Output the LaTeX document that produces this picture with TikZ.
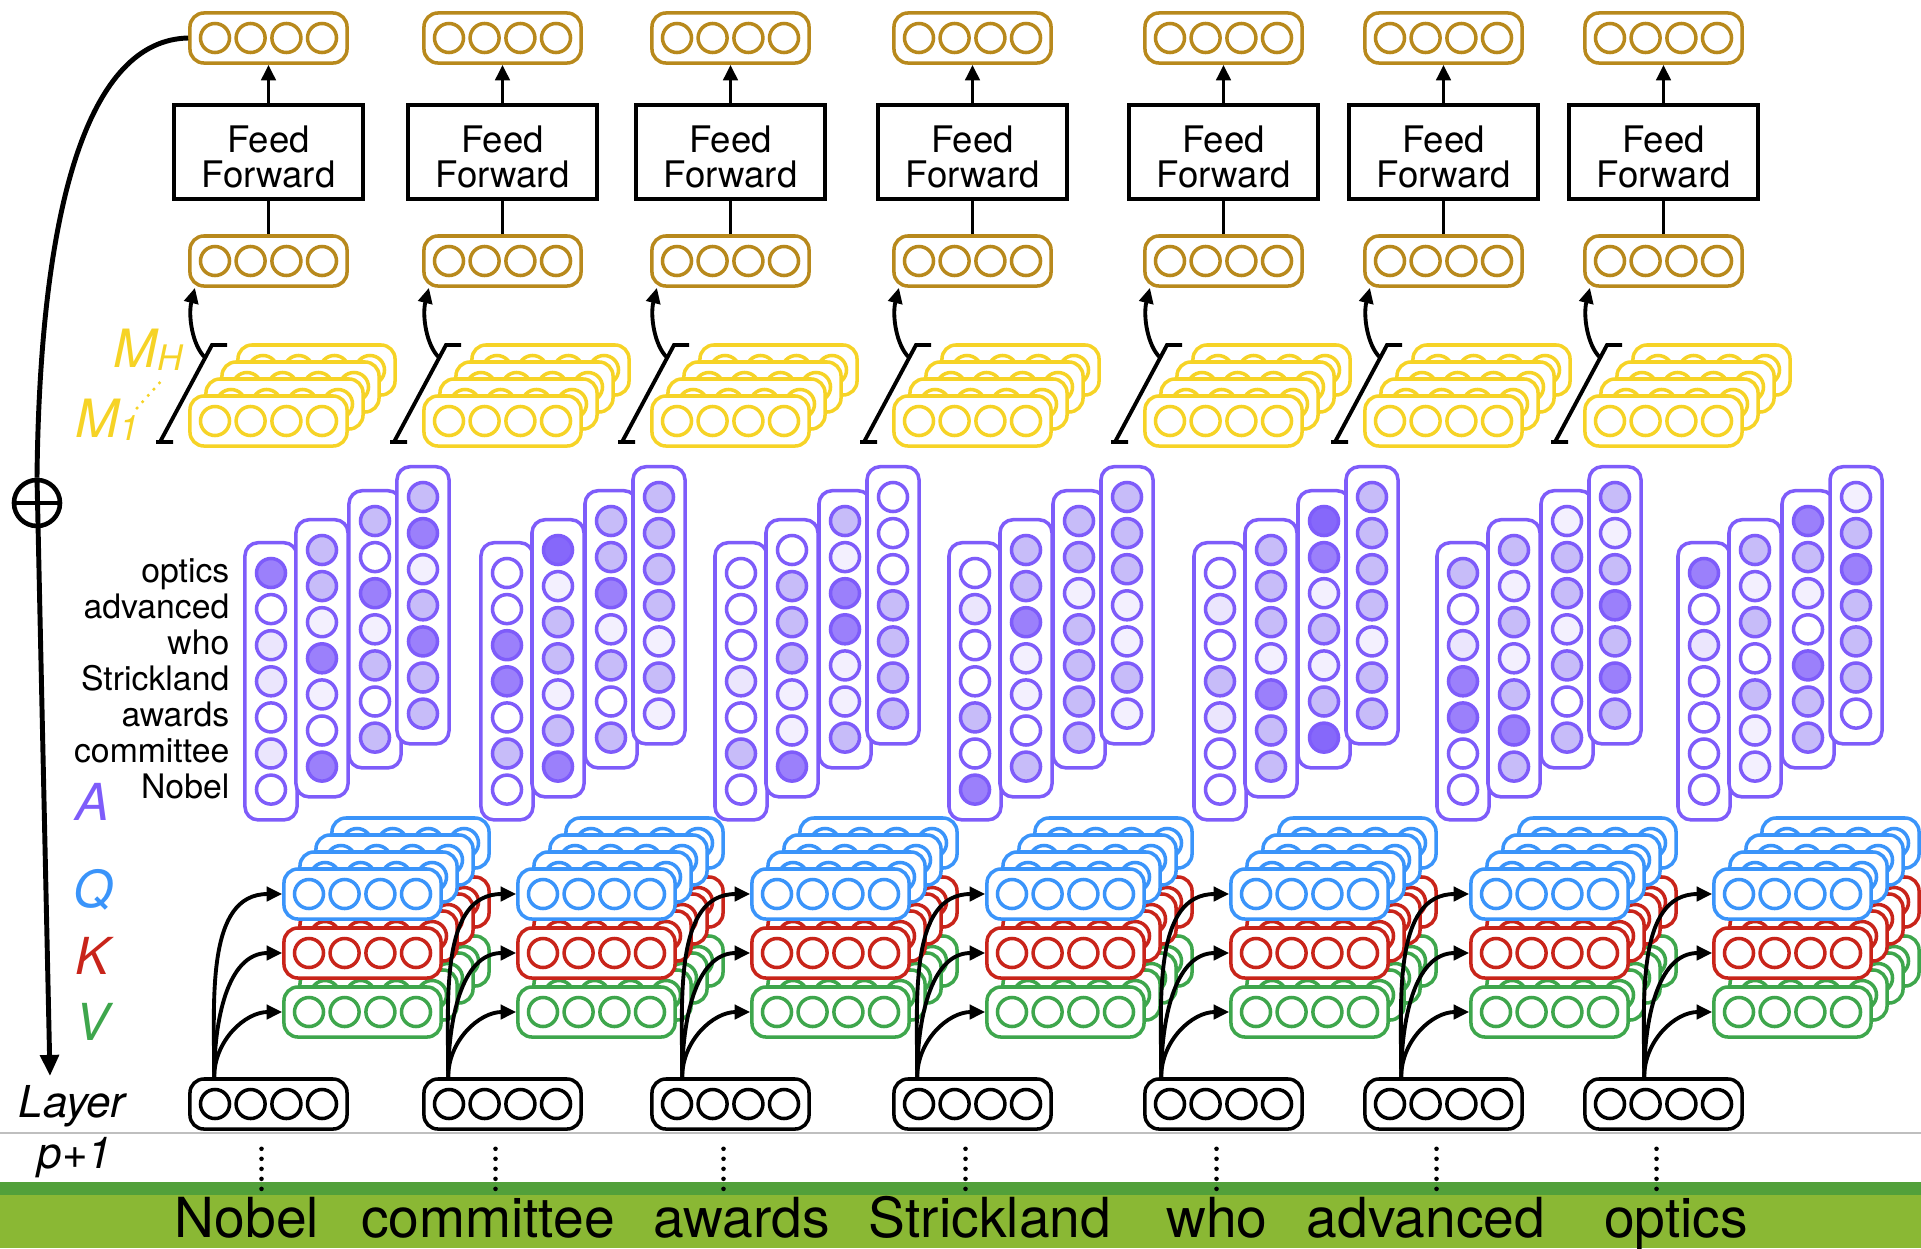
\documentclass[tikz,border=0pt]{standalone}
\usepackage{fontspec}
\setmainfont{TeX Gyre Heros}
\usepackage{tikz}
\usetikzlibrary{arrows.meta,calc,positioning}

\definecolor{ffgold}{RGB}{184,137,28}
\definecolor{headyel}{RGB}{246,211,38}
\definecolor{attpurp}{RGB}{126,92,250}
\definecolor{qblue}{RGB}{58,148,250}
\definecolor{kred}{RGB}{200,36,26}
\definecolor{vgreen}{RGB}{62,166,76}
\definecolor{bardark}{RGB}{82,160,58}
\definecolor{barlight}{RGB}{138,184,52}
% attention weight shades
\definecolor{lv0}{RGB}{255,255,255}
\definecolor{lv1}{RGB}{243,240,254}
\definecolor{lv2}{RGB}{235,230,253}
\definecolor{lv3}{RGB}{199,188,249}
\definecolor{lv4}{RGB}{155,128,251}
\definecolor{lv5}{RGB}{134,104,250}

% one vector: rounded box with four cells
\newcommand\vecrow[3]{% name, centre, colour
  \node[vec=#3] (#1) at (#2) {};
  \foreach \d in {-53.5,-17.9,17.9,53.5}
    \draw[cell=#3] ($(#1.center)+(\d,0)$) circle[radius=0.145cm];
}
% a vector with three more heads stacked behind it
\newcommand\headstack[3]{% name, centre of front copy, colour
  \foreach \k in {3,2,1}
    {\vecrow{#1-\k}{$(#2)+(16*\k,-17*\k)$}{#3}}
  \vecrow{#1}{#2}{#3}
}
% one column of attention weights (7 cells)
\newcommand\acol[4]{% name, x, y of top cell, shades
  \node[abox] (#1) at (#2,#3+108.3) {};
  \foreach \s [count=\r from 0] in {#4}
    \draw[acell, fill=lv\s] (#2,#3+36.1*\r) circle[radius=0.145cm];
}
\newcommand\agroup[6]{% name, x of first column, four shade lists
  \acol{#1a}{#2}{573}{#3}
  \acol{#1b}{#2+51}{550}{#4}
  \acol{#1c}{#2+104}{521}{#5}
  \acol{#1d}{#2+152}{497}{#6}
}

\begin{document}
\begin{tikzpicture}[
  x=0.01cm, y=-0.01cm,
  vec/.style={draw=#1, fill=white, line width=1pt, rounded corners=0.14cm,
    minimum width=1.57cm, minimum height=0.5cm, inner sep=0pt},
  cell/.style={draw=#1, line width=1pt},
  abox/.style={draw=attpurp, fill=white, line width=1pt, rounded corners=0.13cm,
    minimum width=0.52cm, minimum height=2.77cm, inner sep=0pt},
  acell/.style={draw=attpurp, line width=1pt},
  ffbox/.style={draw, line width=1.1pt, minimum width=1.89cm, minimum height=0.94cm,
    inner sep=0pt, label={[ffword]center:{Feed\\Forward}}},
  ffword/.style={align=center, inner sep=0pt, yshift=-1.3pt,
    font=\fontsize{10.4}{10}\selectfont},
  arr/.style={-{Triangle[length=4.4pt,width=4pt]}, line width=1.1pt},
  bigarr/.style={-{Triangle[length=6pt,width=5.2pt]}, line width=1.4pt},
  link/.style={line width=1.1pt},
  brk/.style={line width=1.1pt},
  dotline/.style={line width=1.3pt, line cap=round, dash pattern=on 0pt off 2.85pt},
  word/.style={font=\fontsize{15.7}{16}\selectfont, anchor=base, inner sep=0pt},
  lab/.style={font=\fontsize{9.6}{10}\selectfont, anchor=base east, inner sep=0pt},
  sym/.style={font=\fontsize{14.5}{15}\selectfont\itshape, anchor=base west, inner sep=0pt}
]
\useasboundingbox (0,0) rectangle (1921,1248);

% ---------- Sentence bar ----------
\fill[bardark] (0,1182) rectangle (1921,1195);
\fill[barlight] (0,1195) rectangle (1921,1248);
\draw[black!25, line width=0.6pt] (0,1133) -- (1921,1133);
\foreach \i/\wx/\w in {1/247/Nobel, 2/488/committee, 3/742/awards,
    4/990/Strickland, 5/1217/who, 6/1426/advanced, 7/1676/optics}
  \node[word] (w\i) at (\wx,1237) {\w};

% ---------- Attention weights A ----------
\agroup{g1}{271}{4,0,2,2,0,2,0}{3,3,1,4,1,0,4}{3,0,4,1,3,0,3}{3,4,1,3,4,3,3}
\agroup{g2}{507}{0,0,4,4,0,3,0}{5,1,3,3,1,3,4}{3,3,4,1,3,0,3}{3,3,3,3,1,3,1}
\agroup{g3}{741}{0,0,0,2,0,3,0}{0,3,3,3,1,1,4}{3,1,4,4,1,1,3}{0,0,0,3,3,3,3}
\agroup{g4}{975}{0,2,0,0,3,0,4}{3,3,4,1,1,0,3}{3,3,1,3,3,3,3}{3,3,3,1,1,3,1}
\agroup{g5}{1220}{0,2,0,3,2,0,0}{3,3,3,1,4,3,3}{5,4,1,3,1,3,5}{3,3,3,3,1,3,3}
\agroup{g6}{1463}{3,0,2,4,4,0,0}{3,1,3,1,3,4,3}{1,3,3,1,3,0,3}{3,1,3,4,3,4,3}
\agroup{g7}{1704}{4,0,2,0,0,0,0}{3,1,3,0,3,1,1}{4,3,1,0,4,3,3}{1,3,4,3,3,3,0}

\foreach \t [count=\r from 0] in {optics,advanced,who,Strickland,awards,committee,Nobel}
  \node[lab] (row\r) at (230,582+36.1*\r) {\t};

% ---------- Token columns ----------
\foreach \i/\lx/\qx in {1/190/284, 2/424/518, 3/652/752, 4/894/987,
    5/1145/1231, 6/1365/1471, 7/1585/1714} {
  % layer input
  \vecrow{in\i}{\lx+78.5,1104}{black}
  \draw[dotline] ($(in\i.south)+(-7,18)$) -- ++(0,41);

  % queries, keys, values per head
  \headstack{v\i}{\qx+78.5,1012}{vgreen}
  \headstack{k\i}{\qx+78.5,953}{kred}
  \headstack{q\i}{\qx+78.5,894}{qblue}
  \coordinate (qx\i) at ($(q\i.west)+(-68,0)$);
  \coordinate (src\i) at (qx\i |- in\i.north);
  \foreach \t in {q,k,v}
    \draw[arr] (src\i) to[out=90,in=180] (\t\i.west);

  % head outputs, concatenated
  \headstack{yel\i}{\lx+78.5,421}{headyel}
  \begin{scope}[shift={(\lx+78.5,421)}]
    \draw[brk] (-112.5,21) -- (-95.5,21) (-108.5,21) -- (-56.5,-76) -- (-41.5,-76);
    \coordinate (brk\i) at (-64,-64);
  \end{scope}

  % feed forward
  \vecrow{mid\i}{\lx+78.5,261}{ffgold}
  \node[ffbox] (ff\i) at (\lx+78.5,152) {};
  \vecrow{top\i}{\lx+78.5,38}{ffgold}
  \draw[arr] (brk\i) .. controls +(-12,-12) and +(-7,28) .. (mid\i.-160);
  \draw[link] (mid\i) -- (ff\i);
  \draw[arr] (ff\i) -- (top\i);
}

% ---------- Residual connection ----------
\node[circle, draw, line width=1.3pt, minimum size=0.46cm, inner sep=0pt] (plus) at (37,503) {};
\draw[line width=1.3pt] (plus.west) -- (plus.east);
\coordinate (tip) at (50,1076);
\draw[line width=1.4pt] (top1.west) .. controls (90,40) and (40,200) .. (plus.north);
\draw[bigarr] (plus.north) -- (tip);

% ---------- Labels ----------
\node[sym, text=headyel, font=\fontsize{15}{15}\selectfont\itshape] (mhead) at (113,367)
  {M\raisebox{-0.9pt}{\fontsize{10}{10}\selectfont H}};
\node[sym, text=headyel, font=\fontsize{15}{15}\selectfont\itshape] (mone) at (75,437)
  {M\raisebox{-0.9pt}{\fontsize{10}{10}\selectfont 1}};
\draw[dotline, draw=headyel, line width=1pt, dash pattern=on 0pt off 2.4pt] (137,408) -- (163,379);
\node[sym, text=attpurp] (alab) at (75,820) {A};
\node[sym, text=qblue] (qlab) at (73,907) {Q};
\node[sym, text=kred] (klab) at (75,974) {K};
\node[sym, text=vgreen] (vlab) at (75,1040) {V};
\node[sym, font=\fontsize{12.5}{13}\selectfont\itshape] (layer) at (18,1117) {Layer};
\node[sym, font=\fontsize{12.5}{13}\selectfont\itshape] (pone) at (37,1168) {p+1};

\end{tikzpicture}
\end{document}
